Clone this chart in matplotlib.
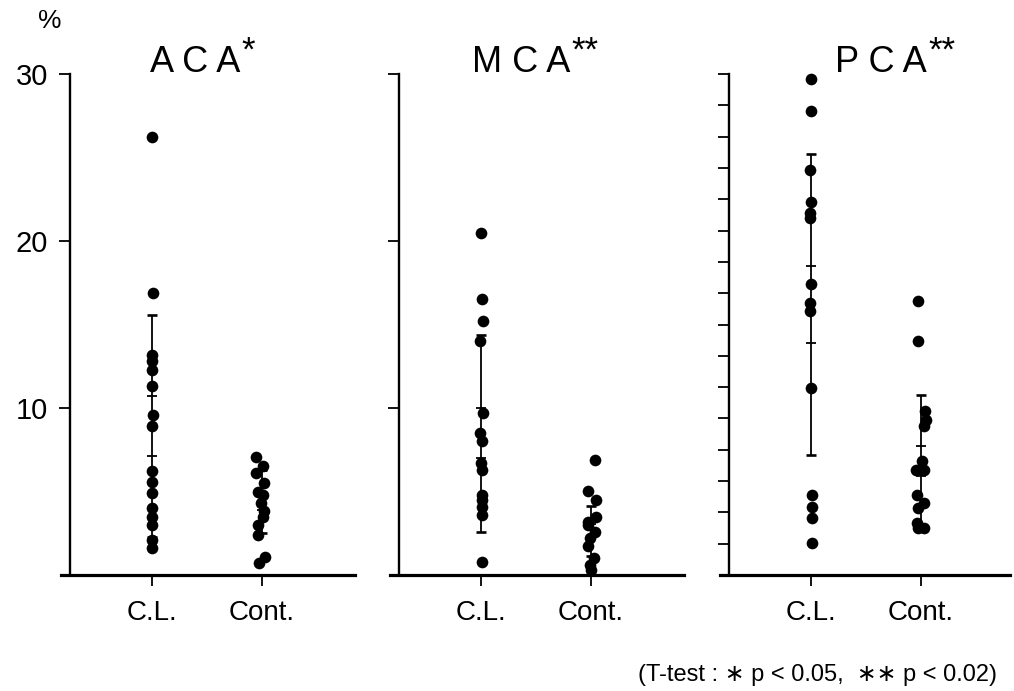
import matplotlib
matplotlib.use('Agg')
import matplotlib.pyplot as plt
import numpy as np

plt.rcParams['font.family'] = ['Liberation Sans', 'DejaVu Sans']

groups = ['C.L.', 'Cont.']
titles = ['A C A', 'M C A', 'P C A']
stars = ['*', '**', '**']

# % values
aca_cl = [26.2, 16.9, 13.2, 12.8, 12.3, 11.3, 9.6, 8.9, 6.2, 5.55, 4.9, 4.0, 3.5, 3.0, 2.1, 1.6]
aca_cont = [7.05, 6.5, 6.1, 5.5, 4.95, 4.8, 4.3, 3.85, 3.45, 3.0, 2.4, 1.1, 0.7]
mca_cl = [20.5, 16.5, 15.2, 14.0, 9.7, 8.5, 8.0, 6.7, 6.3, 4.8, 4.5, 4.1, 3.6, 0.76]
mca_cont = [6.9, 5.05, 4.5, 3.5, 3.2, 3.0, 2.6, 2.2, 1.75, 1.0, 0.6, 0.3]
pca_cl = [29.7, 27.8, 24.25, 22.35, 21.7, 21.35, 17.4, 16.3, 15.8, 11.2, 4.8, 4.1, 3.4, 1.9]
pca_cont = [16.4, 14.0, 9.8, 9.3, 8.9, 6.8, 6.3, 6.3, 4.8, 4.3, 4.0, 3.1, 2.8, 2.8]

# sideways scatter of the dots (category units)
aca_cl_dx = [0, 0.01, 0, 0, 0, 0, 0.01, 0, 0, 0, 0, 0, 0, 0, 0, 0]
aca_cont_dx = [-0.055, 0.012, -0.055, 0.021, -0.04, 0.012, -0.01, 0.021, 0.012, -0.04, -0.034, 0.03, -0.03]
mca_cl_dx = [0, 0.01, 0.015, -0.01, 0.02, -0.005, 0.01, 0, 0.01, 0.01, 0.01, 0.01, 0.01, 0.01]
mca_cont_dx = [0.036, -0.024, 0.045, 0.045, -0.03, -0.024, 0.036, -0.01, -0.024, 0.027, -0.01, 0.0]
pca_cl_dx = [0.005, 0.005, -0.005, 0, -0.005, -0.005, 0, -0.005, -0.005, 0, 0.01, 0.01, 0.01, 0.01]
pca_cont_dx = [-0.03, -0.03, 0.036, 0.045, 0.03, 0.006, -0.045, 0.03, -0.036, 0.03, -0.03, -0.036, -0.03, 0.03]

# mean, SD, SE per group
aca_stats = [(8.9, 6.65, 1.8), (4.4, 1.9, 0.5)]
mca_stats = [(8.5, 5.9, 1.5), (2.65, 1.5, 0.4)]
pca_stats = [(16.2, 9.0, 2.3), (6.8, 4.0, 0.9)]

panels = [
    (aca_cl, aca_cont, aca_cl_dx, aca_cont_dx, aca_stats),
    (mca_cl, mca_cont, mca_cl_dx, mca_cont_dx, mca_stats),
    (pca_cl, pca_cont, pca_cl_dx, pca_cont_dx, pca_stats),
]

W, H = 1014, 691
fig = plt.figure(figsize=(W / 100, H / 100), dpi=100)

PX = 110.0            # pixels per category unit
spine_px = [70, 399, 729]
x_hi = [2.85, 2.85, 2.81]
x_lo = 0.17
spine_x = 0.255
title_x = [0.455, 0.445, 0.555]
y0_px, y30_px = 575, 74

for i, (cl, cont, cl_dx, cont_dx, stats) in enumerate(panels):
    left = spine_px[i] - (spine_x - x_lo) * PX
    width = (x_hi[i] - x_lo) * PX
    ax = fig.add_axes([left / W, 1 - y0_px / H, width / W, (y0_px - y30_px) / H])
    ax.set_xlim(x_lo, x_hi[i])
    ax.set_ylim(0, 30)
    ax.patch.set_visible(False)

    for pos, vals, dx, (m, sd, se) in zip([1, 2], [cl, cont], [cl_dx, cont_dx], stats):
        ax.vlines(pos, m - sd, m + sd, color='black', lw=1.3, zorder=2)
        ax.hlines([m - sd, m + sd], pos - 0.045, pos + 0.045, color='black', lw=1.9, zorder=2)
        ax.hlines([m - se, m + se], pos - 0.045, pos + 0.045, color='black', lw=1.3, zorder=2)
        ax.plot(pos + np.array(dx), vals, 'o', color='black', ms=8.4, mew=0,
                clip_on=False, zorder=3)

    for s in ['top', 'right']:
        ax.spines[s].set_visible(False)
    ax.spines['left'].set_position(('data', spine_x))
    ax.spines['left'].set_bounds(0, 30)
    ax.spines['left'].set_linewidth(1.7)
    ax.spines['bottom'].set_linewidth(2.3)

    ax.set_xticks([1, 2])
    ax.set_xticklabels(groups, fontsize=20)
    ax.tick_params(axis='x', length=8, width=1.3, pad=10)

    if i == 2:
        ax.set_yticks(np.linspace(0, 30, 17)[1:])
    else:
        ax.set_yticks([10, 20, 30])
    ax.tick_params(axis='y', length=8, width=1.3, pad=8, labelsize=21)
    if i > 0:
        ax.set_yticklabels([])

    t = ax.text(title_x[i], 1.003, titles[i], transform=ax.transAxes,
                ha='center', va='baseline', fontsize=26)
    ax.annotate(stars[i], xy=(1, 1), xycoords=t, xytext=(1, -4),
                textcoords='offset points', ha='left', va='center', fontsize=25)

fig.text(50 / W, 1 - 21 / H, '%', ha='center', va='center', fontsize=19)
fig.text(997 / W, 1 - 681 / H, '(T-test : \u2217 p < 0.05,  \u2217\u2217 p < 0.02)',
         ha='right', va='baseline', fontsize=17)

fig.savefig('out.png', dpi=100)
